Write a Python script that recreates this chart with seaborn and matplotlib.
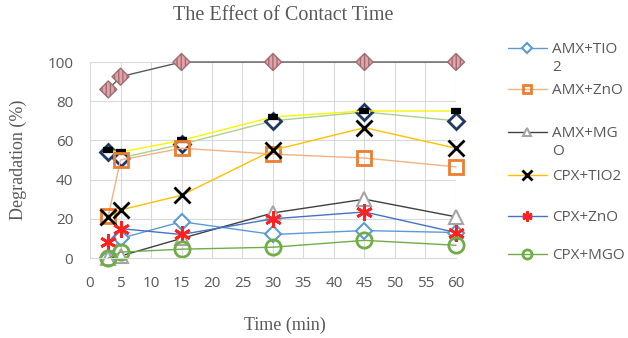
import numpy as np
import pandas as pd
import matplotlib
matplotlib.use("Agg")
import matplotlib.pyplot as plt
import seaborn as sns
from matplotlib.legend_handler import HandlerLine2D

# ---------------- data ----------------
time_min = [3, 5, 15, 30, 45, 60]
amx_tio2 = [0, 10, 18.5, 12, 14, 13]
amx_zno = [21.5, 50, 56, 53, 51, 46.5]
amx_mgo = [0, 1, 10, 23, 30, 21]
cpx_tio2 = [21, 24.5, 32, 55, 66.5, 56]
cpx_zno = [8, 15, 12, 20, 23.5, 13]
cpx_mgo = [0, 3, 4.5, 5.5, 9, 6.5]
# extra series drawn in the chart but not listed in its legend
extra_hatched = [86, 92.5, 100, 100, 100, 100]
extra_navy = [54, 51, 58, 70, 74.5, 70]
extra_dash = [55, 54, 60, 72, 75, 75]

legend_labels = ["AMX+TIO\n2", "AMX+ZnO", "AMX+MG\nO", "CPX+TIO2", "CPX+ZnO", "CPX+MGO"]
x_ticks = [0, 5, 10, 15, 20, 25, 30, 35, 40, 45, 50, 55, 60]
y_ticks = [0, 20, 40, 60, 80, 100]

TEXT = "#595959"
GRID = "#D9D9D9"

sns.set_style("white")
plt.rcParams["font.family"] = ["Open Sans", "DejaVu Sans"]

fig = plt.figure(figsize=(6.28, 3.38), dpi=100)
ax = fig.add_axes([90 / 628, 1 - 258 / 338, 366 / 628, 196 / 338])

common = dict(ax=ax, clip_on=False, linewidth=1.0, legend=False)

# extra series
sns.lineplot(x=time_min, y=extra_hatched, color="#595959", **common)
sns.scatterplot(x=time_min, y=extra_hatched, ax=ax, marker="D", s=75,
                color="#E8A0A8", edgecolor="#9A6F73", hatch="||||",
                linewidth=1.0, zorder=4, clip_on=False, legend=False)
sns.lineplot(x=time_min, y=extra_navy, color="#A9D18E", marker="D",
             markersize=8, mfc="white", mec="#1F3864", mew=2.0, **common)
sns.lineplot(x=time_min, y=extra_dash, color="#FFF200", marker="_",
             markersize=7, mec="black", mew=4.5, **common)

styles = [
    (amx_tio2, dict(color="#5B9BD5", marker="D", markersize=8, mfc="white", mec="#5B9BD5", mew=1.5)),
    (amx_zno, dict(color="#F4B183", marker="s", markersize=10, mfc="none", mec="#ED7D31", mew=2.0)),
    (amx_mgo, dict(color="#404040", marker="^", markersize=10, mfc="white", mec="#A5A5A5", mew=1.5)),
    (cpx_tio2, dict(color="#FFC000", marker="x", markersize=11, mec="black", mew=2.0)),
    (cpx_zno, dict(color="#4472C4", marker=(6, 2, 0), markersize=12, mec="#FF2020", mew=2.0)),
    (cpx_mgo, dict(color="#70AD47", marker="o", markersize=11, mfc="none", mec="#70AD47", mew=2.0)),
]
handles = []
for vals, st in styles:
    sns.lineplot(x=time_min, y=vals, **common, **st)
    handles.append(ax.lines[-1])

ax.set_xlim(0, 60)
ax.set_ylim(0, 100)
ax.set_xticks(x_ticks)
ax.set_yticks(y_ticks)
ax.tick_params(axis="both", length=0, labelsize=11, labelcolor=TEXT)
ax.tick_params(axis="x", pad=13)
ax.tick_params(axis="y", pad=12)
ax.grid(True, color=GRID, linewidth=0.8)
ax.set_axisbelow(True)
for side in ["top", "right", "left"]:
    ax.spines[side].set_visible(False)
ax.spines["bottom"].set_color(GRID)

serif = ["Liberation Serif", "DejaVu Serif"]
ax.set_title("The Effect of Contact Time", family=serif, fontsize=14.5,
             color=TEXT, x=0.527, y=1.235, va="center", pad=0)
ax.set_xlabel("Time (min)", family=serif, fontsize=13, color=TEXT)
ax.xaxis.label.set_va("center")
ax.xaxis.set_label_coords(0.533, -0.342)
ax.set_ylabel("Degradation (%)", family=serif, fontsize=13, color=TEXT)
ax.yaxis.label.set_va("center")
ax.yaxis.set_label_coords(-0.197, 0.5)


class FirstLineHandler(HandlerLine2D):
    def __init__(self, lines_up=0.0, **kw):
        super().__init__(**kw)
        self.lines_up = lines_up

    def create_artists(self, legend, orig_handle, xdescent, ydescent, width,
                       height, fontsize, trans):
        arts = super().create_artists(legend, orig_handle, xdescent, ydescent,
                                      width, height, fontsize, trans)
        for a in arts:
            a.set_ydata(np.asarray(a.get_ydata(), float) + self.lines_up * fontsize)
        return arts


centers = [47, 88, 131, 174, 215, 253]
for h, lab, yc in zip(handles, legend_labels, centers):
    nlines = lab.count("\n")
    leg = fig.legend([h], [lab], loc="upper left",
                     bbox_to_anchor=(508 / 628, 1 - (yc - 5) / 338),
                     frameon=False, fontsize=11, borderpad=0, borderaxespad=0,
                     handlelength=2.55, handletextpad=0.33, markerscale=0.6,
                     handler_map={h: FirstLineHandler(lines_up=0.68 * nlines)})
    for t in leg.get_texts():
        t.set_color(TEXT)
        t.set_linespacing(1.3)

fig.savefig("out.png", dpi=100)
